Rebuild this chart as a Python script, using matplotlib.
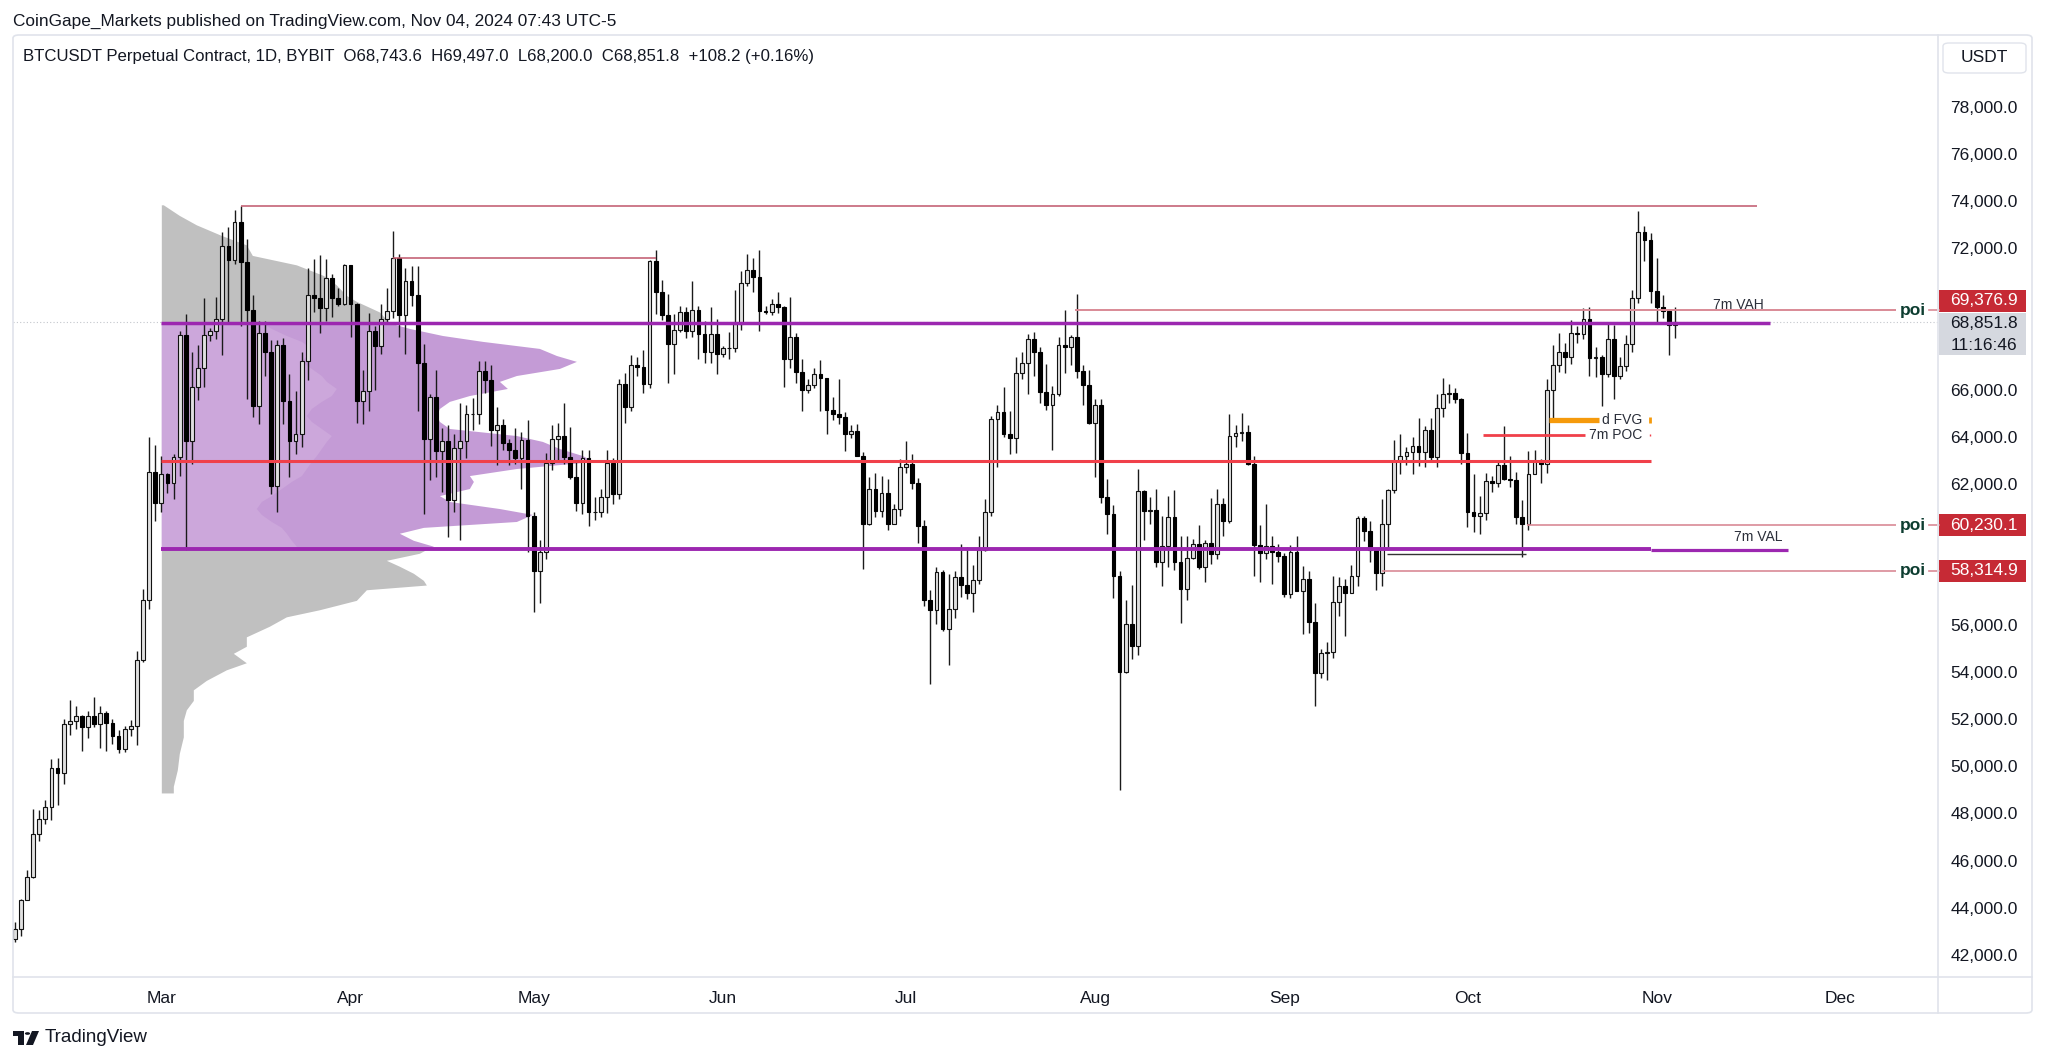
import numpy as np
import pandas as pd
import matplotlib
matplotlib.use('Agg')
import matplotlib.pyplot as plt
from matplotlib.patches import Rectangle, FancyBboxPatch, Circle, Polygon
from matplotlib.lines import Line2D
from matplotlib.transforms import blended_transform_factory

plt.rcParams['font.family'] = ['Liberation Sans', 'DejaVu Sans']

# ---- daily candles, BTCUSDT perp (Bybit), 5 Feb - 4 Nov 2024 ----
first_open = 42580

close_feb = [42650, 43090, 44330, 45290, 47130, 47750, 48290, 49940, 49700, 51800, 51930, 52130, 51650,
             52130, 51780, 52260, 51850, 51300, 50740, 51570, 51730, 54500, 57050, 62500, 61200]
high_feb = [43500, 43400, 44350, 45600, 48200, 48150, 48550, 50300, 50350, 52000, 52800, 52550, 52200,
            52350, 52950, 52550, 52350, 52000, 51550, 51700, 51950, 54900, 57550, 64000, 63650]
low_feb = [42250, 42550, 42800, 44330, 45250, 46850, 47550, 47700, 48350, 49250, 51350, 51600, 50650,
           51200, 51650, 50800, 50650, 50950, 50550, 50600, 51300, 50900, 54450, 56700, 60400]

close_mar = [62400, 62050, 63150, 68300, 63800, 66100, 66900, 68300, 68500, 69000, 72100, 71500, 73100, 71400,
             69400, 65300, 68400, 67600, 61900, 67900, 65500, 63800, 64100, 67200, 70000, 69900, 69450, 70750,
             69900, 69650, 71300]
high_mar = [63200, 62450, 63250, 68500, 69200, 67600, 67900, 69900, 68600, 69950, 72700, 72900, 73650, 73800,
            72400, 70000, 68900, 68900, 68100, 68100, 68200, 66650, 65950, 67600, 71150, 71550, 71700, 71550,
            70900, 70300, 71350]
low_mar = [60800, 61600, 61350, 62350, 59200, 62850, 65550, 66100, 68050, 68150, 67450, 68800, 71350, 68700,
           65600, 64850, 64550, 66600, 61550, 60800, 64550, 62300, 63250, 63550, 66400, 69300, 68400, 68900,
           69100, 69550, 69600]

close_apr = [69650, 65500, 65950, 68500, 67850, 69000, 69350, 71600, 69150, 70600, 70000, 67150, 63900, 65700,
             63400, 63800, 61300, 63500, 63800, 64950, 64950, 66800, 66400, 64300, 64500, 63750, 63450, 63100,
             63850, 60650]
high_apr = [71300, 69700, 66850, 69250, 68700, 69650, 70300, 72750, 71750, 71150, 71250, 71250, 67950, 65800,
            66850, 64350, 64500, 64100, 65450, 65350, 65650, 67200, 67200, 67050, 65250, 64750, 63900, 64350,
            64200, 64700]
low_apr = [68250, 64600, 64550, 65100, 66000, 67500, 68850, 69050, 68250, 67500, 69550, 65100, 60700, 62150,
           62300, 61650, 59750, 60800, 59600, 63100, 64300, 64550, 65850, 63600, 62800, 63450, 62800, 62850,
           61800, 59100]

close_may = [58300, 59100, 62900, 63900, 64050, 63150, 62300, 61200, 63100, 60800, 60800, 61450, 62900, 61550,
             66250, 65250, 67050, 66950, 66250, 71450, 70150, 69150, 67950, 68550, 69300, 68500, 69400, 68350,
             67600, 68350, 67500]
high_may = [60800, 59600, 63300, 64500, 64600, 65450, 64400, 62950, 63450, 63450, 61450, 61800, 63450, 63100,
            66450, 66700, 67450, 67400, 67700, 71500, 71950, 70650, 70050, 69200, 69550, 69500, 70600, 69550,
            68900, 69500, 69000]
low_may = [56550, 56950, 58800, 62600, 62950, 62850, 62200, 60850, 60700, 60200, 60450, 60600, 60750, 61150,
           61350, 64600, 65100, 66600, 65850, 66050, 69200, 68950, 66300, 66650, 68450, 68200, 68250, 67300,
           67150, 67150, 66650]

close_jun = [67750, 67750, 68800, 70550, 71100, 70800, 69350, 69300, 69650, 69500, 67300, 68250, 66750, 66000,
             66200, 66650, 66500, 65150, 64950, 64850, 64100, 64250, 63200, 60300, 61800, 60850, 61600, 60300,
             60950, 62700]
high_jun = [67850, 68450, 70250, 71050, 71750, 71600, 71950, 69550, 69850, 70150, 69550, 69950, 68400, 67300,
            66450, 66900, 67250, 66500, 65700, 66450, 65050, 64500, 64550, 63350, 62300, 62450, 62350, 62200,
            61150, 63050]
low_jun = [67400, 67300, 67600, 68550, 70400, 70150, 68500, 69200, 69150, 69250, 66100, 66900, 66300, 65100,
           65850, 66050, 65100, 64100, 64700, 64550, 63400, 63950, 63200, 58400, 60250, 60600, 60600, 60050,
           60300, 60650]

close_jul = [62850, 62050, 60200, 57050, 56650, 58250, 55850, 56700, 58050, 57700, 57350, 57900, 59200, 60800,
             64750, 65050, 64100, 63950, 66700, 67150, 68150, 67600, 65900, 65350, 65800, 67900, 67800, 68250,
             66800, 66200, 64600]
high_jul = [63800, 63250, 62250, 60450, 57500, 58450, 58350, 58150, 58300, 59450, 59300, 58550, 59800, 61350,
            64900, 65350, 66100, 65100, 67400, 67600, 68350, 68450, 67800, 67100, 66150, 68250, 69400, 68300,
            70050, 67050, 66850]
low_jul = [62450, 61800, 59500, 56800, 53500, 56050, 55750, 54300, 56300, 57200, 57100, 56550, 57750, 59150,
           60650, 62700, 64000, 63250, 63300, 66450, 65800, 66600, 65450, 65150, 63450, 65750, 66700, 67050,
           66500, 65350, 64550]

close_aug = [65350, 61450, 60700, 58100, 54000, 56050, 55100, 61700, 60850, 60900, 58700, 59350, 60600, 58700,
             57550, 58850, 59450, 58450, 59500, 59000, 61150, 60400, 64050, 64150, 64200, 62850, 59400, 59050,
             59350, 59100, 58950]
high_aug = [65600, 65600, 62200, 61100, 58300, 57050, 57700, 62650, 61750, 61450, 61800, 60650, 61500, 61750,
            59800, 59800, 59650, 60250, 59600, 61400, 61800, 61400, 64950, 64500, 65000, 64500, 63200, 60250,
            61150, 59800, 59450]
low_aug = [62300, 61200, 59850, 57150, 49000, 53950, 54550, 54750, 59600, 60300, 58450, 57650, 58450, 58350,
           56100, 57050, 58800, 58400, 57850, 58600, 58800, 59800, 60350, 63550, 63800, 62800, 58100, 57850,
           58800, 57750, 58700]

close_sep = [57300, 59100, 57450, 57950, 56150, 53950, 54800, 54850, 57000, 57650, 57350, 58100, 60550, 60000,
             59200, 58200, 60300, 61750, 62950, 63200, 63350, 63600, 63350, 64300, 63150, 65200, 65800, 65850,
             65600, 63300]
high_sep = [59050, 59400, 59800, 58500, 58300, 56950, 55000, 55300, 58100, 58050, 57950, 58550, 60650, 60650,
            60400, 59200, 61350, 61800, 63850, 64100, 63550, 64000, 64800, 64450, 64800, 65800, 66500, 66250,
            66050, 65650]
low_sep = [57200, 57150, 57450, 55600, 55650, 52550, 53750, 53650, 54600, 56400, 55550, 57350, 57650, 59550,
           58700, 57500, 57650, 59200, 61600, 62400, 62800, 62400, 62750, 62700, 62950, 62700, 64850, 65450,
           65450, 62850]

close_oct = [60800, 60650, 60750, 62100, 62050, 62800, 62200, 62150, 60600, 60300, 62400, 62950, 62850, 66000,
             67050, 67600, 67400, 68400, 68350, 69000, 67350, 67400, 66650, 68150, 66600, 67000, 67950, 69900,
             72700, 72350, 70200]
high_oct = [64150, 62400, 61500, 62450, 62350, 62950, 64450, 63200, 62500, 61300, 63400, 63450, 63050, 66450,
            67900, 68400, 68000, 68950, 68700, 69450, 69500, 67800, 67450, 68850, 68750, 67400, 68300, 70250,
            73600, 72950, 72650]
low_oct = [60150, 59950, 59850, 60450, 61650, 61850, 62150, 61850, 60300, 58900, 60050, 62400, 62050, 62450,
           64800, 66750, 66700, 67100, 68000, 68150, 66600, 66550, 65300, 66550, 65600, 66450, 66800, 67600,
           69700, 71450, 69700]

close_nov = [69500, 69350, 68743.6, 68851.8]
high_nov = [71600, 70000, 69400, 69497.0]
low_nov = [68800, 69050, 67450, 68200.0]

# ---- fixed range volume profile (from 1 Mar) ----
vp_price = [73850, 73400, 73000, 72550, 72150, 71700, 71300, 70850, 70450, 70000, 69750, 69300, 68840, 68600,
            68300, 68050, 67750, 67450, 67200, 66900, 66600, 66350, 66050, 65750, 65500, 65200, 64900, 64650,
            64350, 64050, 63800, 63500, 63200, 62950, 62650, 62350, 62100, 61800, 61500, 61250, 60950, 60700,
            60400, 60150, 59900, 59600, 59350, 59210, 59050, 58750, 58500, 58200, 57900, 57700, 57500, 57050,
            56650, 56350, 55950, 55500, 55100, 54800, 54400, 54100, 53650, 53250, 52800, 52400, 51950, 51250,
            50550, 49850, 49150, 48870]
vp_vol = [2, 18, 35, 60, 85, 91, 135, 162, 175, 185, 195, 218, 228, 248, 281, 321, 378, 395, 415, 398, 355, 338,
          346, 308, 288, 278, 275, 278, 288, 355, 381, 398, 421, 432, 355, 308, 312, 308, 278, 288, 338, 371, 355,
          262, 238, 252, 272, 265, 258, 225, 238, 252, 262, 265, 205, 195, 158, 125, 108, 85, 85, 72, 85, 65, 45,
          32, 32, 25, 22, 22, 18, 16, 12, 12]
# up-volume part of each row inside the value area (68,840 .. 59,210)
va_up = [100, 110, 125, 140, 150, 145, 140, 150, 160, 165, 175, 170, 160, 150, 145, 150, 160, 170, 165, 160,
         155, 150, 145, 140, 130, 120, 110, 100, 95, 100, 110, 120, 125, 130, 135, 130]

vah, val, poc = 68840, 59210, 62960
last_price = 68851.8

months = ['Mar', 'Apr', 'May', 'Jun', 'Jul', 'Aug', 'Sep', 'Oct', 'Nov', 'Dec']
month_starts = ['2024-03-01', '2024-04-01', '2024-05-01', '2024-06-01', '2024-07-01', '2024-08-01',
                '2024-09-01', '2024-10-01', '2024-11-01', '2024-12-01']
price_ticks = [78000, 76000, 74000, 72000, 66000, 64000, 62000, 56000, 54000, 52000, 50000, 48000, 46000,
               44000, 42000]
poi_levels = [69376.9, 60230.1, 58314.9]

# ---- assemble ----
closes = np.array(close_feb + close_mar + close_apr + close_may + close_jun + close_jul + close_aug
                  + close_sep + close_oct + close_nov, dtype=float)
highs = np.array(high_feb + high_mar + high_apr + high_may + high_jun + high_jul + high_aug
                 + high_sep + high_oct + high_nov, dtype=float)
lows = np.array(low_feb + low_mar + low_apr + low_may + low_jun + low_jul + low_aug
                + low_sep + low_oct + low_nov, dtype=float)
opens = np.concatenate([[first_open], closes[:-1]])
opens[-1] = 68743.6
highs = np.maximum(highs, np.maximum(opens, closes))
lows = np.minimum(lows, np.minimum(opens, closes))

t0 = pd.Timestamp('2024-03-01')
dates = pd.date_range('2024-02-05', periods=len(closes), freq='D')
x = np.asarray((dates - t0).days, dtype=float)
month_x = [(pd.Timestamp(m) - t0).days for m in month_starts]

W, H = 2048, 1062
fig = plt.figure(figsize=(W / 100, H / 100), dpi=100)
fig.patch.set_facecolor('white')
ax = fig.add_axes([13 / W, 1 - 977 / H, (1938 - 13) / W, (977 - 35) / H])
ax.set_xlim(-24.3, 291.1)
ax.set_ylim(41053, 81062)
for s in ax.spines.values():
    s.set_visible(False)

# volume profile
px_per_day = 6.102
vp_p = np.array(vp_price, dtype=float)
vp_w = np.array(vp_vol, dtype=float) / px_per_day
top = vp_p >= vah
bot = vp_p <= val
mid = (vp_p <= vah) & (vp_p >= val)
ax.fill_betweenx(vp_p[top], 0, vp_w[top], color='#c0c0c0', lw=0, zorder=1)
ax.fill_betweenx(vp_p[bot], 0, vp_w[bot], color='#c0c0c0', lw=0, zorder=1)
up_w = np.array(va_up, dtype=float) / px_per_day
ax.fill_betweenx(vp_p[mid], 0, vp_w[mid], color='#c49bd6', lw=0, zorder=1)
ax.fill_betweenx(vp_p[mid], 0, up_w, color='#cca7db', lw=0, zorder=1)

# current price dotted line
ax.axhline(last_price, color='#c3c6cc', lw=0.8, ls=(0, (1, 2)), zorder=0.5)

# candles
is_up = closes >= opens
ax.vlines(x, lows, highs, color='#1a1a1a', lw=1.0, zorder=3)
ax.bar(x[is_up], (closes - opens)[is_up], bottom=opens[is_up], width=0.62,
       color='#e0e0e0', edgecolor='#111111', linewidth=0.8, zorder=4)
ax.bar(x[~is_up], (opens - closes)[~is_up], bottom=closes[~is_up], width=0.62,
       color='#000000', edgecolor='#000000', linewidth=0.8, zorder=4)

# drawn levels
ax.hlines(73800, 13, 261.5, color='#c0566b', lw=1.1, zorder=5)
ax.hlines(71600, 38, 81, color='#c0566b', lw=1.1, zorder=5)
ax.hlines(vah, 0, 263.6, color='#9c27b0', lw=2.5, zorder=5)
ax.hlines(poc, 0, 244, color='#f0404a', lw=2.2, zorder=5)
ax.hlines(val, 0, 244, color='#9c27b0', lw=2.8, zorder=5)
ax.hlines(val - 40, 244, 266.5, color='#9c27b0', lw=2.3, zorder=5)
ax.hlines(59020, 200.8, 223.6, color='#333333', lw=1.0, zorder=5)
ax.hlines(64070, 216.5, 233.3, color='#f0404a', lw=2.0, zorder=5)
ax.hlines(64700, 227.4, 235.6, color='#f59a0c', lw=3.8, zorder=5)
ax.hlines(poi_levels[0], 149.7, 284.3, color='#d98a96', lw=1.4, zorder=5)
ax.hlines(poi_levels[1], 223.7, 284.3, color='#d98a96', lw=1.2, zorder=5)
ax.hlines(poi_levels[2], 200.0, 284.3, color='#d98a96', lw=1.2, zorder=5)

ax.text(258.4, poi_levels[0] + 230, '7m VAH', fontsize=10, color='#2a2e39', ha='center', va='center', zorder=6)
ax.text(261.7, 59722, '7m VAL', fontsize=10, color='#2a2e39', ha='center', va='center', zorder=6)
ax.text(242.6, 64700, 'd FVG', fontsize=10, color='#2a2e39', ha='right', va='center', zorder=6)
ax.text(242.6, 64070, '7m POC', fontsize=10, color='#2a2e39', ha='right', va='center', zorder=6)
ax.plot([243.9], [64700], marker='|', ms=5, mew=2, color='#f59a0c', zorder=6)
ax.plot([243.9], [64070], marker='|', ms=2, mew=1, color='#f0404a', zorder=6)

# axes ticks
ax.set_xticks(month_x)
ax.set_xticklabels(months)
ax.tick_params(axis='x', length=0, pad=10, labelsize=12.5, labelcolor='#131722')
ax.yaxis.tick_right()
ax.set_yticks(price_ticks)
ax.set_yticklabels([f'{v:,.1f}' for v in price_ticks])
ax.tick_params(axis='y', length=0, pad=9, labelsize=12.5, labelcolor='#131722')

# price tags on the scale
tr = blended_transform_factory(fig.transFigure, ax.transData)
tag_h = 934
tag_y = [poi_levels[0] + 390, poi_levels[1], poi_levels[2]]
for lvl, yc in zip(poi_levels, tag_y):
    ax.add_patch(Rectangle((1939 / W, yc - tag_h / 2), (2026 - 1939) / W, tag_h, transform=tr,
                           facecolor='#c62a35', edgecolor='none', clip_on=False, zorder=7))
    ax.text(1984 / W, yc, f'{lvl:,.1f}', transform=tr, color='white', fontsize=12.5,
            ha='center', va='center', clip_on=False, zorder=8)
    ax.text(1913 / W, lvl, 'poi', transform=tr, color='#0d3d30', fontsize=12.5, fontweight='bold',
            ha='center', va='center', clip_on=False, zorder=8)
    ax.add_line(Line2D([1929 / W, 1939 / W], [lvl, lvl], transform=tr, color='#d98a96', lw=1.2,
                       clip_on=False, zorder=7))

ax.add_patch(Rectangle((1939 / W, 67460), (2026 - 1939) / W, 69240 - 67460, transform=tr,
                       facecolor='#d5d8df', edgecolor='none', clip_on=False, zorder=7))
ax.text(1984 / W, 68790, f'{last_price:,.1f}', transform=tr, color='#131722', fontsize=12.5,
        ha='center', va='center', clip_on=False, zorder=8)
ax.text(1984 / W, 67890, '11:16:46', transform=tr, color='#131722', fontsize=12.5,
        ha='center', va='center', clip_on=False, zorder=8)

# chart frame
frame_col = '#e0e3eb'
fig.add_artist(FancyBboxPatch((13 / W, 1 - 1013 / H), (2032 - 13) / W, (1013 - 35) / H,
                              boxstyle='round,pad=0,rounding_size=0.003', transform=fig.transFigure,
                              fill=False, edgecolor=frame_col, lw=1.2))
fig.add_artist(Line2D([1938 / W, 1938 / W], [1 - 35 / H, 1 - 1013 / H], color=frame_col, lw=1.2))
fig.add_artist(Line2D([13 / W, 2032 / W], [1 - 977 / H, 1 - 977 / H], color=frame_col, lw=1.2))
fig.add_artist(FancyBboxPatch((1943 / W, 1 - 73 / H), (2026 - 1943) / W, 30 / H,
                              boxstyle='round,pad=0,rounding_size=0.003', transform=fig.transFigure,
                              facecolor='white', edgecolor=frame_col, lw=1.0))
fig.text(1984 / W, 1 - 58 / H, 'USDT', fontsize=12.5, color='#131722', ha='center', va='center')

# header texts
fig.text(13 / W, 1 - 21 / H, 'CoinGape_Markets published on TradingView.com, Nov 04, 2024 07:43 UTC-5',
         fontsize=12.4, color='#131722', ha='left', va='center')
fig.text(23 / W, 1 - 57 / H,
         'BTCUSDT Perpetual Contract, 1D, BYBIT  O68,743.6  H69,497.0  L68,200.0  C68,851.8  +108.2 (+0.16%)',
         fontsize=12.1, color='#131722', ha='left', va='center')

# TradingView logo + name
def fp(px, py):
    return (px / W, 1 - py / H)

fig.add_artist(Polygon([fp(13, 1031), fp(24, 1031), fp(24, 1045), fp(18, 1045), fp(18, 1036), fp(13, 1036)],
                       closed=True, transform=fig.transFigure, facecolor='#131722', edgecolor='none'))
fig.add_artist(Circle(fp(27.5, 1033.5), 2.6 / W, transform=fig.transFigure, facecolor='#131722',
                      edgecolor='none'))
fig.add_artist(Polygon([fp(32, 1031), fp(39, 1031), fp(33, 1045), fp(26, 1045)], closed=True,
                       transform=fig.transFigure, facecolor='#131722', edgecolor='none'))
fig.text(45 / W, 1 - 1038 / H, 'TradingView', fontsize=13.5, color='#131722', ha='left', va='center')

fig.savefig('out.png', dpi=100, facecolor='white')
